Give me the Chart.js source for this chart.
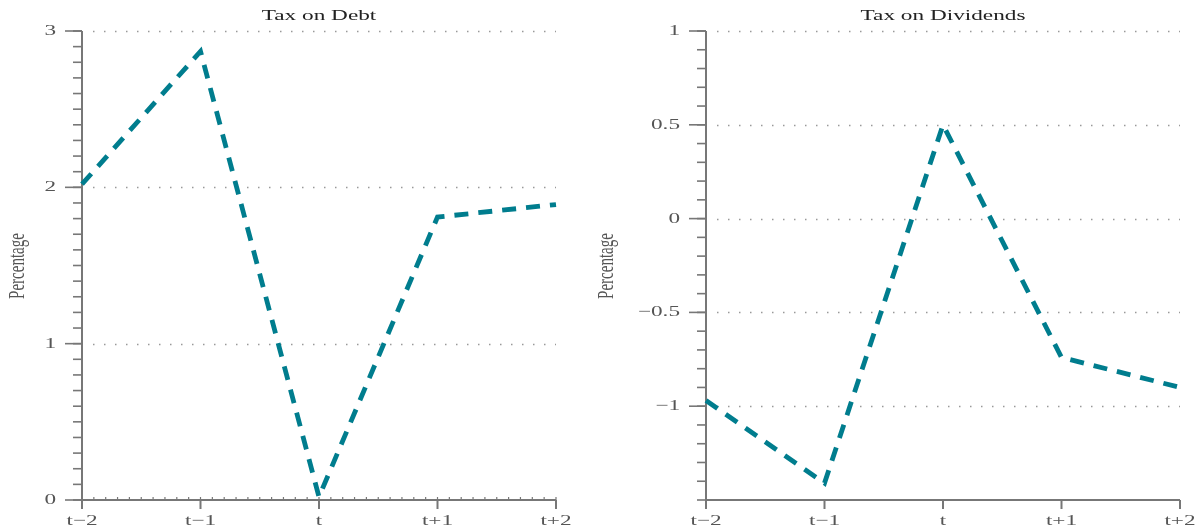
<!DOCTYPE html>
<html lang="en">
<head>
    <meta charset="UTF-8">
    <script src="https://cdn.jsdelivr.net/npm/chart.js"></script>
    <title>Tax on Debt / Tax on Dividends</title>
    <style>
        body { margin: 0; background: #fff; }
        .panel { position: absolute; top: 0; }
    </style>
</head>
<body>
    <div class="panel" style="left:0px;"><canvas id="debt_chart" width="576" height="529"></canvas></div>
    <div class="panel" style="left:590px;"><canvas id="div_chart" width="610" height="529"></canvas></div>
    <script>
        // data
        var periods = ['t\u22122', 't\u22121', 't', 't+1', 't+2'];
        var periodPos = [-2, -1, 0, 1, 2];
        var debtTax = [2.02, 2.87, 0.02, 1.81, 1.89];
        var dividendTax = [-0.97, -1.41, 0.50, -0.74, -0.90];

        var debtTicks = [0, 1, 2, 3];
        var debtTickLabels = ['0', '1', '2', '3'];
        var dividendTicks = [-1, -0.5, 0, 0.5, 1];
        var dividendTickLabels = ['\u22121', '\u22120.5', '0', '0.5', '1'];

        var lineColor = '#007d8e';
        var axisColor = '#777777';
        var labelColor = '#555555';
        var serif = '"Liberation Serif", "DejaVu Serif", serif';
        var stretch = 1.55; // text in the figure is stretched sideways

        function toPoints(vals){
            var pts = [];
            for (var i = 0; i < vals.length; i++) {
                pts.push({x: periodPos[i], y: vals[i]});
            }
            return pts;
        }

        function wideText(ctx, txt, x, y, align, color, size){
            ctx.save();
            ctx.font = size + 'px ' + serif;
            ctx.fillStyle = color;
            ctx.textBaseline = 'middle';
            ctx.textAlign = align;
            ctx.translate(x, y);
            ctx.scale(stretch, 1);
            ctx.fillText(txt, 0, 0);
            ctx.restore();
        }

        // draws axes, tick marks, dotted grid and texts using the chart scales
        var panelAxes = {
            id: 'panelAxes',
            beforeDatasetsDraw: function(chart, args, opts){
                var ctx = chart.ctx;
                var xs = chart.scales.x, ys = chart.scales.y;
                var area = chart.chartArea;
                var i, k, py, px;

                ctx.save();
                // dotted grid
                ctx.strokeStyle = '#999999';
                ctx.lineWidth = 1.5;
                ctx.setLineDash([1.5, 9.5]);
                for (i = 0; i < opts.yTicks.length; i++) {
                    if (opts.yTicks[i] === ys.min) continue;
                    py = Math.round(ys.getPixelForValue(opts.yTicks[i])) + 0.5;
                    ctx.beginPath();
                    ctx.moveTo(area.left + 11, py);
                    ctx.lineTo(area.right, py);
                    ctx.stroke();
                }
                ctx.setLineDash([]);

                // y minor + major ticks
                ctx.strokeStyle = axisColor;
                ctx.lineWidth = 1.6;
                var kmin = Math.round(ys.min * 10), kmax = Math.round(ys.max * 10);
                for (k = kmin; k <= kmax; k++) {
                    py = ys.getPixelForValue(k / 10);
                    ctx.beginPath();
                    ctx.moveTo(area.left - 9, py);
                    ctx.lineTo(area.left, py);
                    ctx.stroke();
                }
                for (i = 0; i < opts.yTicks.length; i++) {
                    py = ys.getPixelForValue(opts.yTicks[i]);
                    ctx.beginPath();
                    ctx.moveTo(area.left - 17, py);
                    ctx.lineTo(area.left, py);
                    ctx.stroke();
                    wideText(ctx, opts.yLabels[i], area.left - 26, py, 'right', labelColor, 15);
                }

                // x minor ticks (left panel only)
                if (opts.xMinor) {
                    ctx.lineWidth = 1.2;
                    for (k = -20; k <= 20; k++) {
                        px = xs.getPixelForValue(k / 10);
                        ctx.beginPath();
                        ctx.moveTo(px, area.bottom);
                        ctx.lineTo(px, area.bottom - 3);
                        ctx.stroke();
                    }
                }

                // x major ticks and labels
                ctx.lineWidth = 2;
                for (i = 0; i < periodPos.length; i++) {
                    px = xs.getPixelForValue(periodPos[i]);
                    ctx.beginPath();
                    ctx.moveTo(px, area.bottom);
                    ctx.lineTo(px, area.bottom + 9);
                    ctx.stroke();
                    wideText(ctx, periods[i], px, area.bottom + 21, 'center', labelColor, 15);
                }

                // axis lines
                ctx.lineWidth = 2;
                ctx.beginPath();
                ctx.moveTo(area.left, area.top);
                ctx.lineTo(area.left, area.bottom);
                ctx.lineTo(area.right, area.bottom);
                ctx.stroke();

                // title
                wideText(ctx, opts.title, (area.left + area.right) / 2, 16, 'center', '#222222', 15);

                // y title, rotated
                ctx.save();
                ctx.font = '15px ' + serif;
                ctx.fillStyle = labelColor;
                ctx.textAlign = 'center';
                ctx.textBaseline = 'middle';
                ctx.translate(opts.yTitleX, 266);
                ctx.scale(stretch, 1);
                ctx.rotate(-Math.PI / 2);
                ctx.fillText('Percentage', 0, 0);
                ctx.restore();

                ctx.restore();
            }
        };

        function makeChart(id, vals, yMin, yMax, title, yTicks, yLabels, xMinor, padLeft, yTitleX){
            var config = {
                type: 'line',
                data: {
                    datasets: [{
                        data: toPoints(vals),
                        borderColor: lineColor,
                        borderWidth: 4.8,
                        borderDash: [14, 10],
                        borderCapStyle: 'butt',
                        pointRadius: 0,
                        tension: 0,
                        fill: false,
                        clip: false
                    }]
                },
                options: {
                    responsive: false,
                    animation: false,
                    layout: { padding: { left: padLeft, right: 20, top: 31, bottom: 29 } },
                    scales: {
                        x: { type: 'linear', min: -2, max: 2, display: false },
                        y: { type: 'linear', min: yMin, max: yMax, display: false }
                    },
                    plugins: {
                        legend: { display: false },
                        tooltip: { enabled: false },
                        panelAxes: { title: title, yTicks: yTicks, yLabels: yLabels, xMinor: xMinor, yTitleX: yTitleX }
                    }
                },
                plugins: [panelAxes]
            };
            return new Chart(document.getElementById(id), config);
        }

        var debtChart = makeChart('debt_chart', debtTax, 0, 3, 'Tax on Debt', debtTicks, debtTickLabels, true, 82, 18);
        var divChart = makeChart('div_chart', dividendTax, -1.5, 1, 'Tax on Dividends', dividendTicks, dividendTickLabels, false, 116, 17);
    </script>
</body>
</html>
